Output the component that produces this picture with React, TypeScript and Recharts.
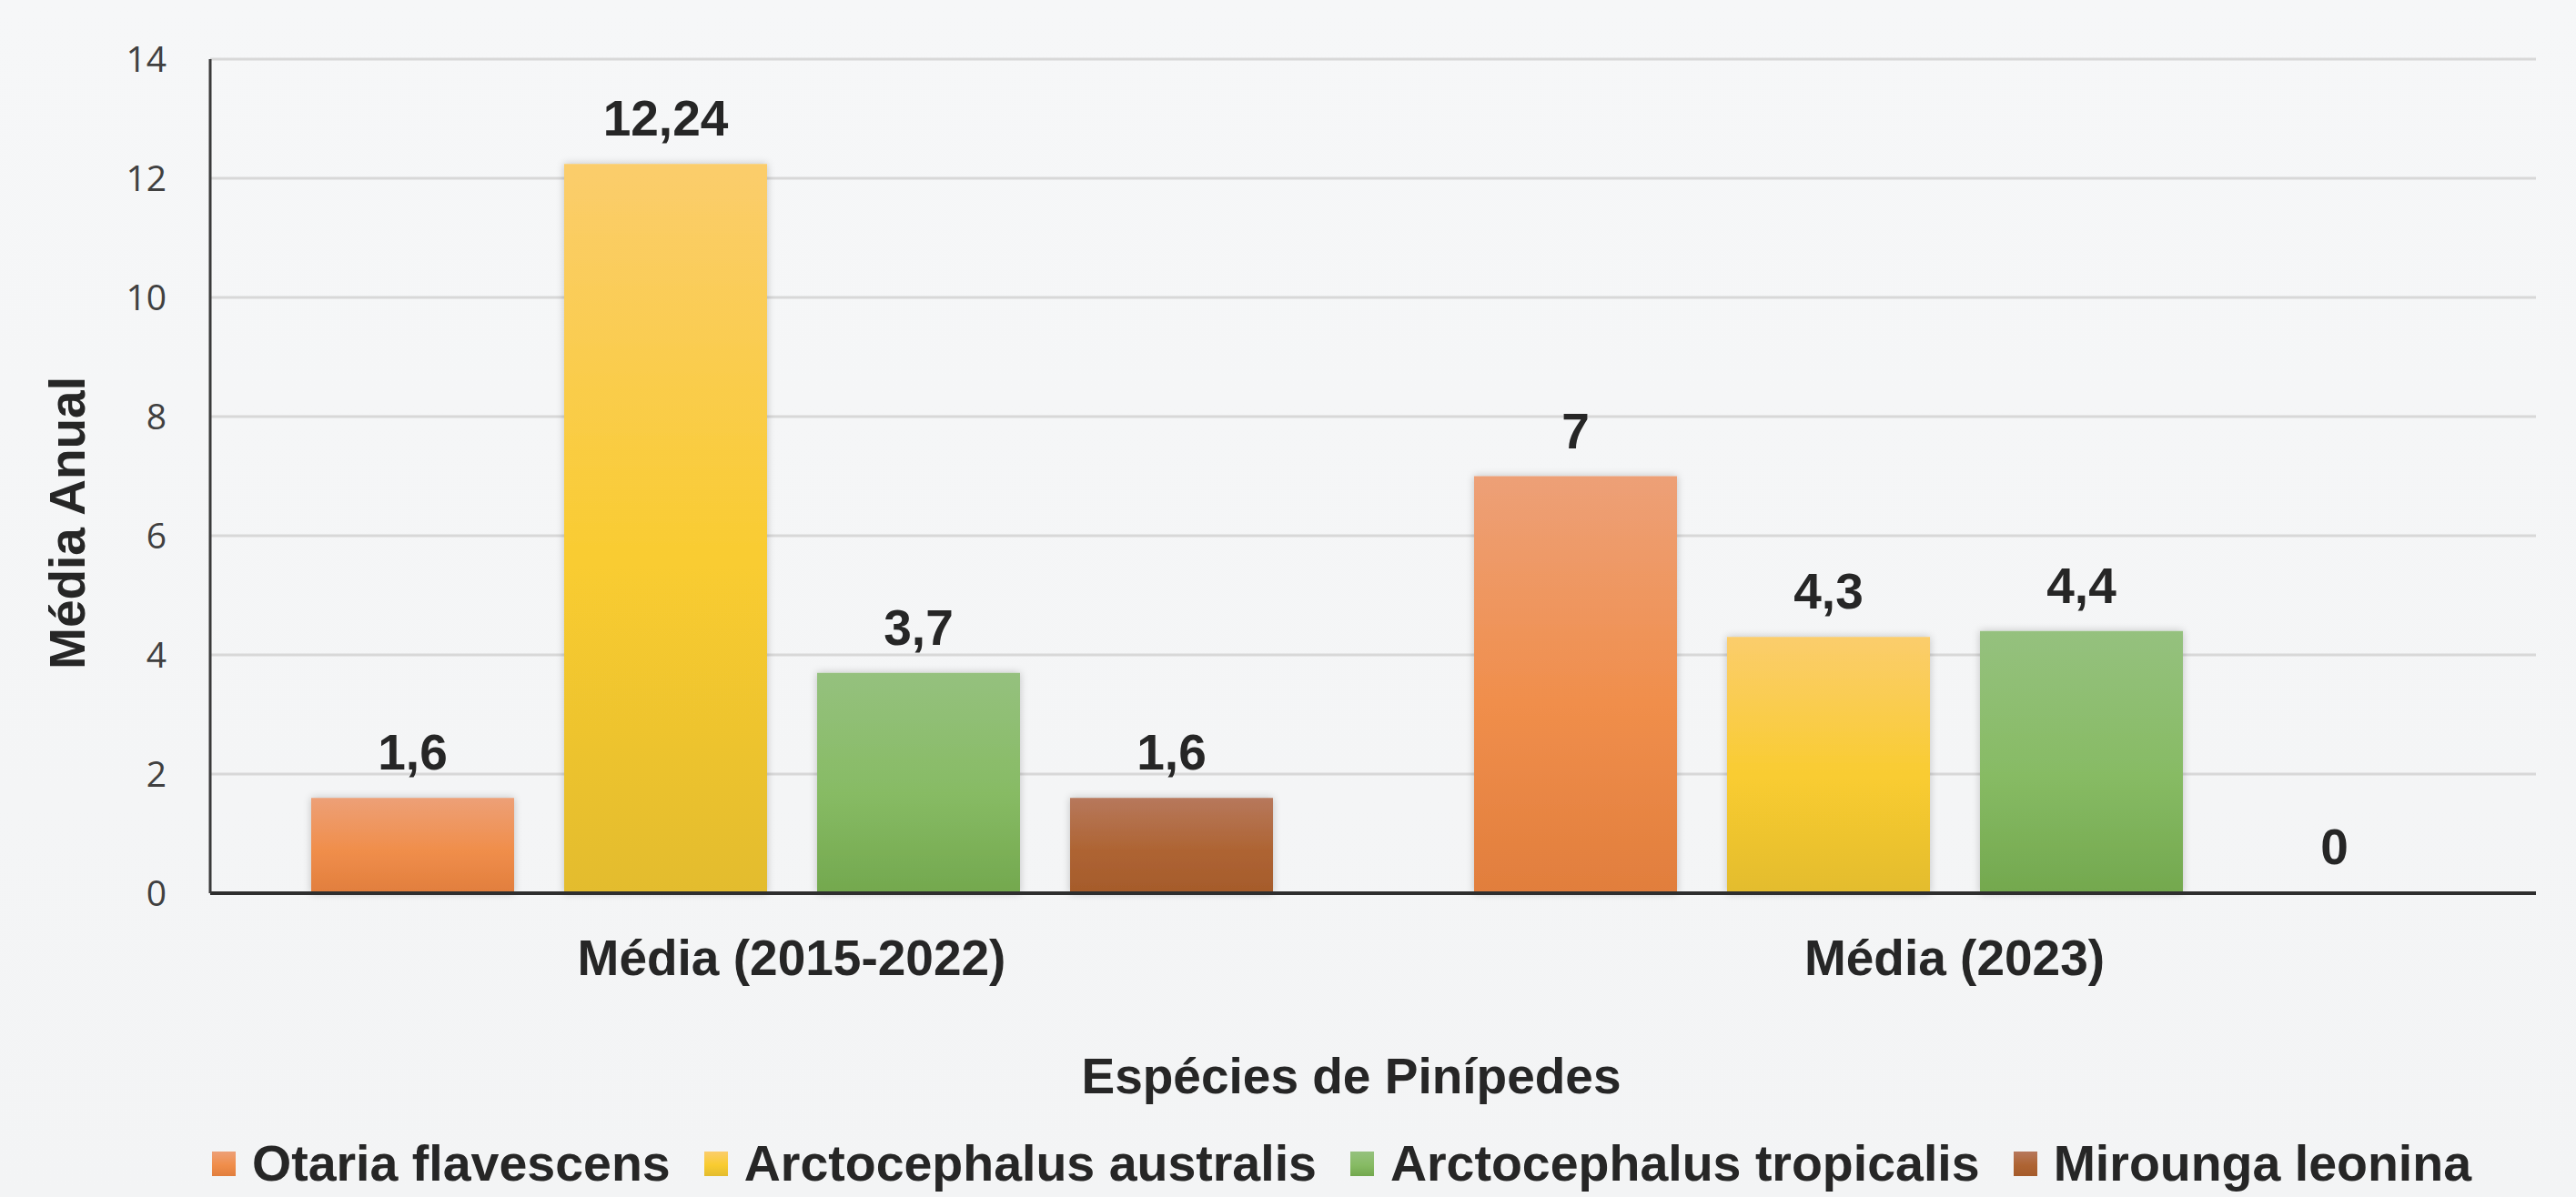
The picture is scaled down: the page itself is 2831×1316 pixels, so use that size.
import { BarChart, Bar, XAxis, YAxis, CartesianGrid, Legend, LabelList } from 'recharts';

const categories = ['Média (2015-2022)', 'Média (2023)'];
const otariaFlavescens = [1.6, 7];
const arctocephalusAustralis = [12.24, 4.3];
const arctocephalusTropicalis = [3.7, 4.4];
const miroungaLeonina = [1.6, 0];
const yTicks = [0, 2, 4, 6, 8, 10, 12, 14];

const series = [
  { key: 'otaria', name: 'Otaria flavescens', values: otariaFlavescens, stops: ['#eda077', '#f08e4b', '#e17e3d'] },
  { key: 'australis', name: 'Arctocephalus australis', values: arctocephalusAustralis, stops: ['#fbcd6c', '#f9cc30', '#e3bc2e'] },
  { key: 'tropicalis', name: 'Arctocephalus tropicalis', values: arctocephalusTropicalis, stops: ['#95c17e', '#87bb64', '#73a84e'] },
  { key: 'mirounga', name: 'Mirounga leonina', values: miroungaLeonina, stops: ['#b7785c', '#ae6433', '#a55b2b'] },
];

const data = categories.map((name, i) => {
  const row: Record<string, string | number> = { name };
  series.forEach((s) => {
    row[s.key] = s.values[i];
  });
  return row;
});

const BOLD = '"Liberation Sans", Arial, sans-serif';
const TEXT = '#262626';

const fmt = (v: number) => String(v).replace('.', ',');

const CategoryTick = ({ x, y, payload }: any) => (
  <text x={x} y={y + 90} textAnchor="middle" fill={TEXT} fontFamily={BOLD} fontWeight={700} fontSize={55}>
    {payload.value}
  </text>
);

// legend keeps the series order (recharts would sort it by name)
const LegendContent = () => (
  <div style={{ display: 'flex', alignItems: 'center', height: 54, paddingLeft: 233 }}>
    {series.map((s) => (
      <div key={s.key} style={{ display: 'flex', alignItems: 'center' }}>
        <span
          style={{
            display: 'inline-block',
            width: 26,
            height: 27,
            marginRight: 18,
            background: `linear-gradient(to bottom, ${s.stops[0]}, ${s.stops[1]} 55%, ${s.stops[2]})`,
          }}
        />
        <span
          style={{
            fontFamily: BOLD,
            fontWeight: 700,
            fontSize: 55.5,
            color: TEXT,
            lineHeight: '54px',
            marginRight: 37,
            whiteSpace: 'nowrap',
          }}
        >
          {s.name}
        </span>
      </div>
    ))}
  </div>
);

export default function App() {
  return (
    <div
      style={{
        position: 'absolute',
        left: 0,
        top: 0,
        width: 2831,
        height: 1316,
        overflow: 'hidden',
        background: 'linear-gradient(180deg, #f6f7f8 0%, #f3f4f5 100%)',
      }}
    >
      <BarChart
        width={2831}
        height={1316}
        data={data}
        margin={{ top: 65, right: 44, left: 0, bottom: 0 }}
        barCategoryGap={111}
        barGap={55}
      >
        <defs>
          {series.map((s) => (
            <linearGradient key={s.key} id={`grad-${s.key}`} x1="0" y1="0" x2="0" y2="1">
              <stop offset="0%" stopColor={s.stops[0]} />
              <stop offset="55%" stopColor={s.stops[1]} />
              <stop offset="100%" stopColor={s.stops[2]} />
            </linearGradient>
          ))}
          <filter id="barShadow" x="-10%" y="-10%" width="120%" height="120%">
            <feDropShadow dx="0" dy="0" stdDeviation="4" floodColor="#000" floodOpacity="0.22" />
          </filter>
        </defs>
        <CartesianGrid vertical={false} stroke="#d8d8d8" strokeWidth={3} />
        <XAxis
          dataKey="name"
          height={280}
          interval={0}
          tickLine={false}
          tickSize={0}
          tickMargin={0}
          axisLine={{ stroke: '#2e2e2e', strokeWidth: 4 }}
          tick={<CategoryTick />}
          label={(props: any) => (
            <text x={1485} y={1202} textAnchor="middle" fill={TEXT} fontFamily={BOLD} fontWeight={700} fontSize={55}>
              Espécies de Pinípedes
            </text>
          )}
        />
        <YAxis
          width={231}
          domain={[0, 14]}
          ticks={yTicks}
          interval={0}
          tickLine={false}
          tickSize={0}
          tickMargin={48}
          axisLine={{ stroke: '#3a3a3a', strokeWidth: 3 }}
          tick={{ fill: '#404040', fontSize: 39, fontFamily: '"Open Sans", sans-serif' }}
          label={(props: any) => (
            <text
              x={93}
              y={575}
              transform="rotate(-90 93 575)"
              textAnchor="middle"
              fill={TEXT}
              fontFamily={BOLD}
              fontWeight={700}
              fontSize={55}
            >
              Média Anual
            </text>
          )}
        />
        <Legend
          verticalAlign="bottom"
          content={<LegendContent />}
          wrapperStyle={{ top: 1252, left: 0, width: 2831, height: 54 }}
        />
        {series.map((s) => (
          <Bar
            key={s.key}
            dataKey={s.key}
            name={s.name}
            fill={`url(#grad-${s.key})`}
            filter="url(#barShadow)"
            minPointSize={1}
            isAnimationActive={false}
          >
            <LabelList
              dataKey={s.key}
              position="top"
              offset={31}
              formatter={fmt as any}
              fill={TEXT}
              fontFamily={BOLD}
              fontWeight={700}
              fontSize={55}
            />
          </Bar>
        ))}
      </BarChart>
    </div>
  );
}
